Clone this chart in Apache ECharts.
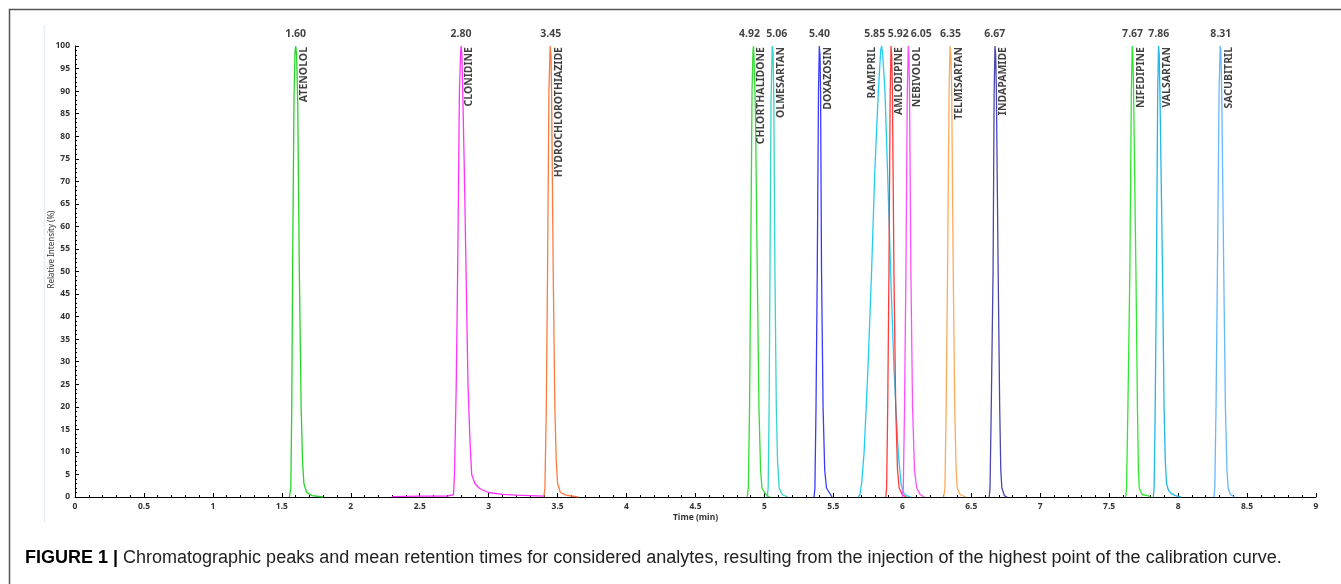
<!DOCTYPE html>
<html>
<head>
<meta charset="utf-8">
<script src="https://cdn.jsdelivr.net/npm/echarts@6/dist/echarts.min.js"></script>
<style>
html,body{margin:0;padding:0;background:#fff;}
#chart{width:1341px;height:584px;}
</style>
</head>
<body>
<div id="chart"></div>
<script>
// ---- data ----
var analytes = ['ATENOLOL','CLONIDINE','HYDROCHLOROTHIAZIDE','CHLORTHALIDONE','OLMESARTAN','DOXAZOSIN','RAMIPRIL','AMLODIPINE','NEBIVOLOL','TELMISARTAN','INDAPAMIDE','NIFEDIPINE','VALSARTAN','SACUBITRIL'];
var retentionTimes = [1.60, 2.80, 3.45, 4.92, 5.06, 5.40, 5.85, 5.92, 6.05, 6.35, 6.67, 7.67, 7.86, 8.31];
var xTicks = ['0','0.5','1','1.5','2','2.5','3','3.5','4','4.5','5','5.5','6','6.5','7','7.5','8','8.5','9'];

var atenolol = [[1.555,0],[1.565,2],[1.572,20],[1.578,50],[1.588,88],[1.596,99],[1.601,100],[1.607,98],[1.615,88],[1.627,50],[1.64,20],[1.65,8],[1.66,3],[1.68,1],[1.72,0.3],[1.80,0]];
var clonidine = [[2.30,0.1],[2.50,0.2],[2.70,0.2],[2.745,0.5],[2.752,5],[2.765,25],[2.775,50],[2.788,90],[2.797,99],[2.801,100],[2.806,98],[2.812,90],[2.825,70],[2.836,50],[2.85,25],[2.865,12],[2.877,5],[2.90,3],[2.93,2],[2.96,1.5],[3.00,1],[3.10,0.6],[3.20,0.4],[3.30,0.3],[3.40,0.2]];
var hydrochlorothiazide = [[3.40,0],[3.408,2],[3.418,20],[3.427,50],[3.437,90],[3.446,100],[3.452,98],[3.456,90],[3.468,50],[3.48,20],[3.49,8],[3.50,3],[3.52,1],[3.56,0.4],[3.65,0]];
var chlorthalidone = [[4.875,0],[4.883,2],[4.892,20],[4.90,50],[4.91,90],[4.917,99],[4.921,100],[4.927,95],[4.935,85],[4.948,50],[4.96,20],[4.972,6],[4.982,2],[5.00,1],[5.02,0.3],[5.04,0]];
var olmesartan = [[5.02,0],[5.027,2],[5.034,20],[5.04,50],[5.048,88],[5.056,100],[5.062,99],[5.068,88],[5.076,50],[5.086,20],[5.095,8],[5.107,2],[5.13,0.5],[5.17,0]];
var doxazosin = [[5.36,0],[5.366,2],[5.374,20],[5.383,50],[5.392,90],[5.398,100],[5.403,98],[5.407,90],[5.414,50],[5.425,20],[5.437,6],[5.45,2],[5.47,1],[5.49,0]];
var ramipril = [[5.68,0],[5.692,0.5],[5.705,3],[5.723,10],[5.75,28],[5.777,50],[5.80,72],[5.826,90],[5.843,99],[5.85,100],[5.858,98],[5.874,90],[5.895,70],[5.915,50],[5.94,28],[5.97,10],[5.99,3],[6.007,1],[6.03,0.3],[6.06,0]];
var amlodipine = [[5.88,0],[5.886,2],[5.894,20],[5.903,50],[5.912,90],[5.918,100],[5.923,98],[5.928,90],[5.939,50],[5.952,20],[5.965,6],[5.977,2],[6.00,0.5],[6.03,0]];
var nebivolol = [[6.00,0],[6.007,2],[6.016,20],[6.026,50],[6.036,90],[6.043,100],[6.048,98],[6.052,90],[6.062,50],[6.074,20],[6.088,6],[6.104,2],[6.13,0.5],[6.16,0]];
var telmisartan = [[6.30,0],[6.309,2],[6.318,20],[6.328,50],[6.339,90],[6.346,100],[6.352,98],[6.358,90],[6.369,50],[6.38,20],[6.39,6],[6.398,2],[6.42,0.5],[6.46,0]];
var indapamide = [[6.63,0],[6.636,2],[6.645,20],[6.658,50],[6.666,90],[6.672,100],[6.677,98],[6.682,90],[6.695,50],[6.706,20],[6.714,6],[6.722,2],[6.74,0.3],[6.76,0]];
var nifedipine = [[7.62,0],[7.626,2],[7.636,20],[7.65,50],[7.661,90],[7.667,100],[7.672,98],[7.677,90],[7.694,50],[7.705,20],[7.712,6],[7.718,2],[7.74,0.5],[7.78,0.3],[7.80,0]];
var valsartan = [[7.82,0],[7.826,2],[7.834,20],[7.843,50],[7.852,90],[7.858,100],[7.863,98],[7.868,90],[7.887,50],[7.898,20],[7.907,8],[7.916,3],[7.93,1.5],[7.95,0.8],[7.98,0.3],[8.02,0]];
var sacubitril = [[8.26,0],[8.266,2],[8.275,20],[8.285,50],[8.297,90],[8.305,100],[8.31,99],[8.316,90],[8.331,50],[8.343,20],[8.354,6],[8.363,2],[8.38,0.5],[8.41,0]];

var profiles = [atenolol, clonidine, hydrochlorothiazide, chlorthalidone, olmesartan, doxazosin, ramipril, amlodipine, nebivolol, telmisartan, indapamide, nifedipine, valsartan, sacubitril];

// ---- styles / label placement ----
var colors = ['#28d428','#ff33ff','#ff7a3d','#33dd33','#33d6c8','#3a3aff','#22ccf5','#ff3b3b','#ff4dff','#ffaa5a','#4848b0','#2ee82e','#1fb8e8','#66b8ff'];
var nameOnLeft = { 'RAMIPRIL': true };
var rtLabelShift = { 'CHLORTHALIDONE': -4, 'OLMESARTAN': 4, 'RAMIPRIL': -7, 'AMLODIPINE': 7, 'NEBIVOLOL': 12 };
var labelFont = "'Noto Sans', sans-serif";

var series = [];
profiles.forEach(function (p, i) {
  series.push({
    name: analytes[i],
    type: 'line',
    data: p,
    showSymbol: false,
    smooth: false,
    lineStyle: { color: colors[i], width: 1.3 },
    itemStyle: { color: colors[i] },
    silent: true,
    z: 3
  });
});

// retention-time labels
series.push({
  type: 'scatter',
  silent: true,
  symbolSize: 1,
  itemStyle: { color: 'rgba(0,0,0,0)' },
  data: retentionTimes.map(function (t, i) {
    return { value: [t, 100], label: { offset: [rtLabelShift[analytes[i]] || 0, 0] } };
  }),
  label: {
    show: true,
    position: 'top',
    distance: 6,
    formatter: function (p) { return p.value[0].toFixed(2); },
    fontFamily: labelFont,
    fontWeight: 'bold',
    fontSize: 10.5,
    color: '#111'
  },
  z: 5
});

// analyte name labels (vertical)
series.push({
  type: 'scatter',
  silent: true,
  symbolSize: 1,
  itemStyle: { color: 'rgba(0,0,0,0)' },
  data: retentionTimes.map(function (t, i) {
    return { value: [t, 100], label: { offset: [-1, nameOnLeft[analytes[i]] ? -10 : 8] } };
  }),
  label: {
    show: true,
    position: 'inside',
    rotate: 90,
    align: 'right',
    verticalAlign: 'middle',
    formatter: function (p) { return analytes[p.dataIndex]; },
    fontFamily: labelFont,
    fontWeight: 'bold',
    fontSize: 10.5,
    color: '#111'
  },
  z: 5
});

var chart = echarts.init(document.getElementById('chart'));
chart.setOption({
  animation: false,
  backgroundColor: '#fff',
  grid: { left: 75, right: 25, top: 46, bottom: 87, containLabel: false },
  xAxis: {
    type: 'value',
    min: 0, max: 9, interval: 0.5,
    name: 'Time (min)',
    nameLocation: 'middle',
    nameGap: 16,
    nameMoveOverlap: false,
    nameTextStyle: { fontFamily: labelFont, fontSize: 8.5, fontWeight: 'bold', color: '#333' },
    axisLine: { show: true, onZero: false, lineStyle: { color: '#000', width: 1 } },
    axisTick: { show: true, inside: true, length: 4, lineStyle: { color: '#000' } },
    minorTick: { show: true, splitNumber: 5, length: 2, lineStyle: { color: '#000' } },
    splitLine: { show: false },
    axisLabel: {
      fontFamily: labelFont, fontSize: 8.5, fontWeight: 'bold', color: '#333', margin: 5,
      formatter: function (v) { return xTicks[Math.round(v * 2)]; }
    }
  },
  yAxis: {
    type: 'value',
    min: 0, max: 100, interval: 5,
    name: 'Relative Intensity (%)',
    nameLocation: 'middle',
    nameGap: 19,
    nameMoveOverlap: false,
    nameTextStyle: { fontFamily: labelFont, fontSize: 8, color: '#333', padding: [0, 0, 0, 44] },
    axisLine: { show: true, lineStyle: { color: '#000', width: 1 } },
    axisTick: { show: true, inside: true, length: 4, lineStyle: { color: '#000' } },
    minorTick: { show: true, splitNumber: 5, length: 2, lineStyle: { color: '#000' } },
    splitLine: { show: false },
    axisLabel: { fontFamily: labelFont, fontSize: 8.5, fontWeight: 'bold', color: '#333', margin: 5 }
  },
  graphic: [
    { type: 'rect', silent: true, shape: { x: 9.5, y: 9.5, width: 1400, height: 700 },
      style: { fill: 'none', stroke: '#555', lineWidth: 1.5 }, z: 0 },
    { type: 'line', silent: true, shape: { x1: 44.5, y1: 25, x2: 44.5, y2: 522 },
      style: { stroke: '#e6eef9', lineWidth: 1.5 }, z: 0 },
    { type: 'text', silent: true, left: 25, top: 549,
      style: {
        text: '{b|FIGURE 1 |} Chromatographic peaks and mean retention times for considered analytes, resulting from the injection of the highest point of the calibration curve.',
        fontFamily: "'Liberation Sans', Arial, sans-serif",
        fontSize: 18,
        fill: '#222',
        rich: { b: { fontWeight: 'bold', fontSize: 18, fill: '#000', fontFamily: "'Liberation Sans', Arial, sans-serif" } }
      } }
  ],
  series: series
});
</script>
</body>
</html>
